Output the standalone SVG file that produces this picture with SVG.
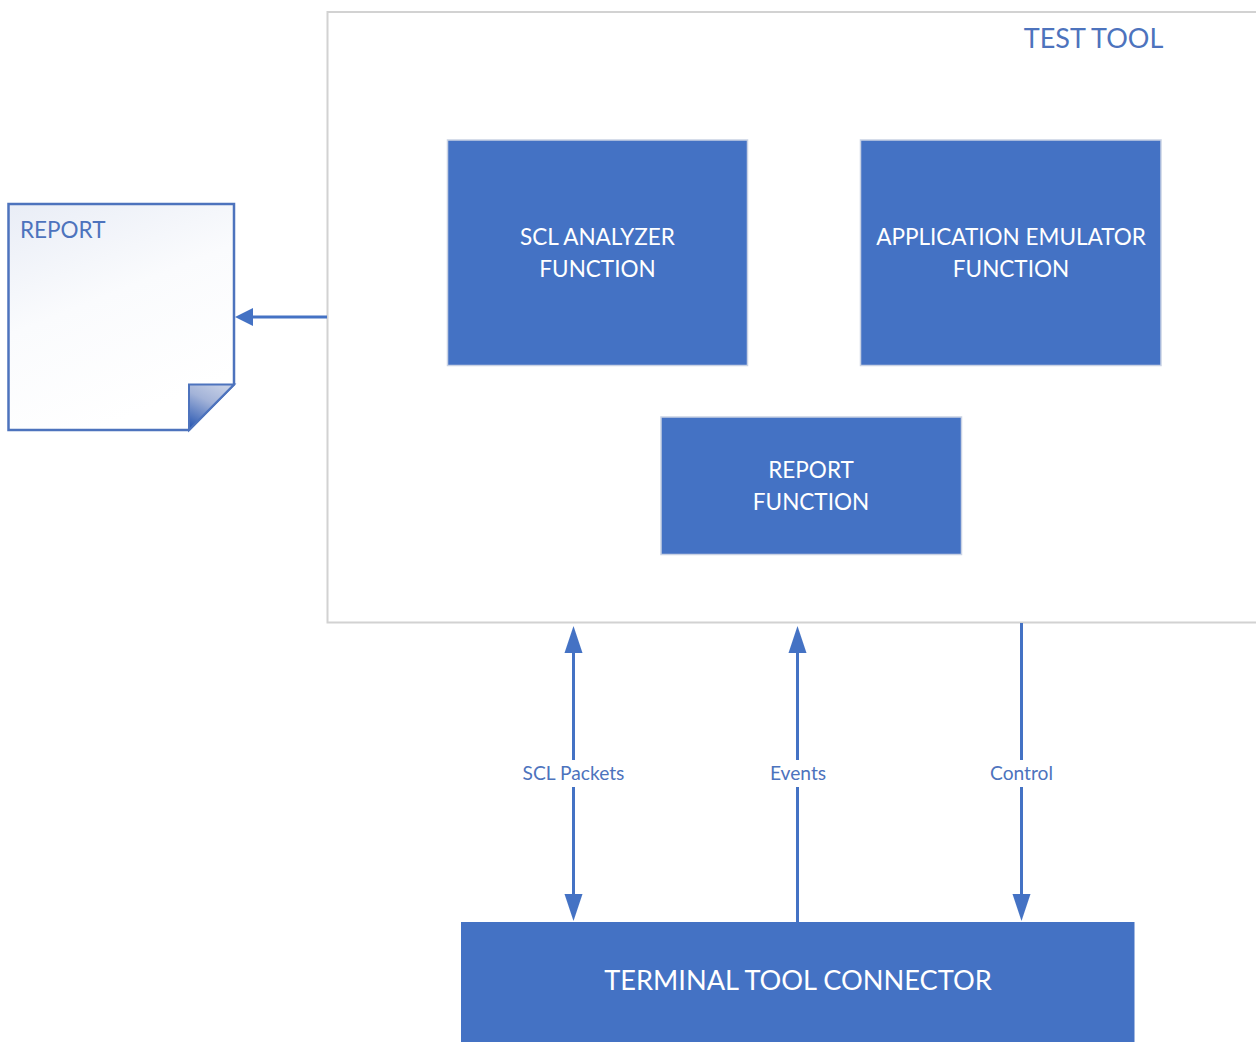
<svg xmlns="http://www.w3.org/2000/svg" width="1256" height="1042" viewBox="0 0 1256 1042">
<style>
text{font-family:Lato,"Open Sans","Liberation Sans",sans-serif}
.box{fill:#4472c4;stroke:#c9d2e4;stroke-width:1.5}
.w{fill:#fff;font-size:22.500px;text-anchor:middle}
.b{fill:#4d73bd}
.lbl{fill:#4d73bd;font-size:19.200px;text-anchor:middle}
.c{stroke:#4472c4;fill:none;stroke-width:3}
.h{fill:#4472c4}
</style>
<defs>
<linearGradient id="paper" x1="0" y1="0" x2="0.4" y2="1">
<stop offset="0" stop-color="#e9edf6"/><stop offset="0.5" stop-color="#fafbfd"/><stop offset="1" stop-color="#fff"/>
</linearGradient>
<linearGradient id="fold" x1="0.7" y1="0" x2="0.2" y2="1">
<stop offset="0" stop-color="#c5cfe6"/><stop offset="0.4" stop-color="#a3b3d8"/><stop offset="1" stop-color="#2f5cb4"/>
</linearGradient>
</defs>
<rect width="1256" height="1042" fill="#fff"/>
<g id="test-tool">
<path d="M1256 12H327.500V622.500H1256" fill="#fff" stroke="#d2d2d2" stroke-width="2"/>
<text x="1093.500" y="48" font-size="27" text-anchor="middle" class="b">TEST TOOL</text>
</g>
<g id="report-doc">
<path d="M8.500 204H234V384.500L189 430H8.500Z" fill="url(#paper)" stroke="#4d73bd" stroke-width="2.500"/>
<path d="M189 384.500H234L189 430Z" fill="url(#fold)" stroke="#4d73bd" stroke-width="2"/>
<text x="20" y="238" font-size="22.500" class="b">REPORT</text>
</g>
<g id="scl-analyzer">
<rect class="box" x="447.500" y="140" width="300" height="225.500"/>
<text class="w" x="597.500" y="244.500">SCL ANALYZER</text>
<text class="w" x="597.500" y="276.500">FUNCTION</text>
</g>
<g id="app-emulator">
<rect class="box" x="860.500" y="140" width="300.500" height="225.500"/>
<text class="w" x="1011" y="244.500">APPLICATION EMULATOR</text>
<text class="w" x="1011" y="276.500">FUNCTION</text>
</g>
<g id="report-function">
<rect class="box" x="661" y="417" width="300.500" height="137.500"/>
<text class="w" x="811" y="477.500">REPORT</text>
<text class="w" x="811" y="509.500">FUNCTION</text>
</g>
<g id="terminal-connector">
<rect x="461" y="922" width="673.500" height="120" fill="#4472c4"/>
<text x="798" y="989.500" fill="#fff" font-size="27.200" text-anchor="middle">TERMINAL TOOL CONNECTOR</text>
</g>
<g id="connectors">
<path class="c" d="M327 317H250"/>
<path class="h" d="M235 317L253 308V326Z"/>
<path class="c" d="M573.500 650V760M573.500 787V898"/>
<path class="h" d="M573.500 626L582.500 653H564.500Z"/>
<path class="h" d="M573.500 921L564.500 894H582.500Z"/>
<path class="c" d="M797.500 650V760M797.500 787V922"/>
<path class="h" d="M797.500 626L806.500 653H788.500Z"/>
<path class="c" d="M1021.500 623V760M1021.500 787V898"/>
<path class="h" d="M1021.500 921L1012.500 894H1030.500Z"/>
<text class="lbl" x="573.500" y="780">SCL Packets</text>
<text class="lbl" x="798" y="780">Events</text>
<text class="lbl" x="1021.500" y="780">Control</text>
</g>
</svg>
